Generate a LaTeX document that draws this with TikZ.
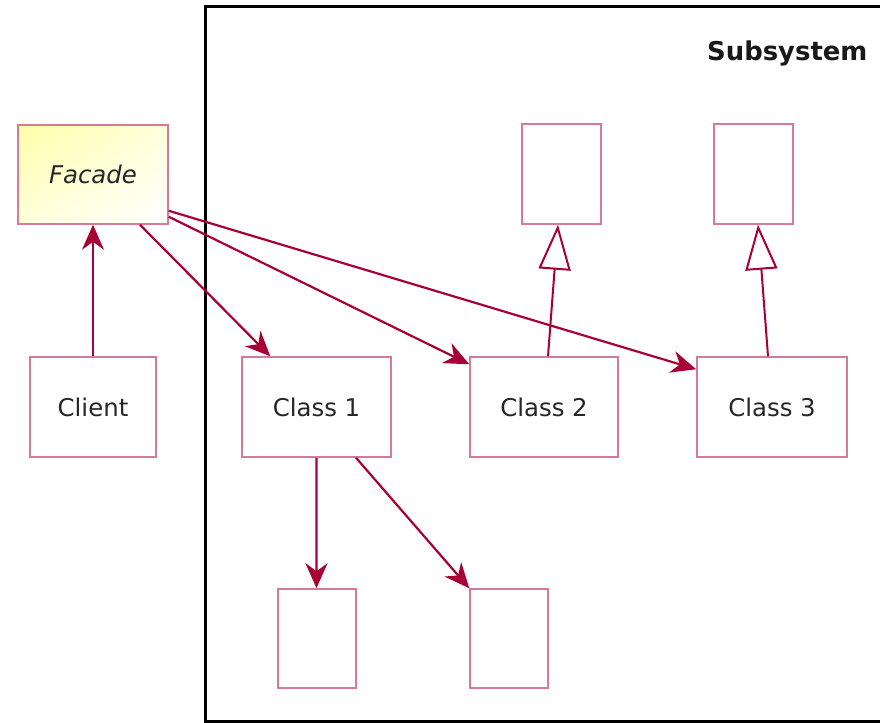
\documentclass[tikz,border=0pt]{standalone}
\usepackage{fontspec}
\setmainfont{DejaVu Sans}
\usetikzlibrary{arrows.meta,calc,shadings}
\definecolor{umlred}{HTML}{A80036}
\definecolor{boxline}{RGB}{214,122,152}
\definecolor{facadeyellow}{RGB}{255,255,170}
\definecolor{facademid}{RGB}{255,255,220}
\tikzset{
  cls/.style={draw=boxline, line width=1.5bp, fill=white, inner sep=0pt, anchor=center,
    font=\fontsize{24.5}{28}\selectfont, text=black!85},
  assoc/.style={draw=umlred, line width=2.2bp, -{Stealth[length=25bp,width=22bp,inset=8bp]}},
  gen/.style={draw=umlred, line width=2bp, -{Triangle[open,length=45bp,width=32bp,fill=white]}},
}
\begin{document}
\begin{tikzpicture}[x=1bp,y=-1bp]
\useasboundingbox (0,0) rectangle (880,723);
\clip (0,0) rectangle (880,723);
\fill[white] (0,0) rectangle (880,723);
% subsystem frame
\draw[black, line width=3bp] (205,7) rectangle (905,721);
\node[anchor=east, font=\bfseries\fontsize{26}{30}\selectfont, text=black!90] (subtitle) at (871,53) {Subsystem};
% nodes
\shade[upper left=facadeyellow, upper right=facademid, lower left=facademid, lower right=white] (18,125) rectangle (168,224);
\node[cls, fill=none, minimum width=150bp, minimum height=99bp, font=\itshape\fontsize{24.5}{28}\selectfont] (facade) at (93,174.5) {Facade};
\node[cls, minimum width=126bp, minimum height=100bp] (client) at (93,407) {Client};
\node[cls, minimum width=149bp, minimum height=100bp] (c1) at (316.5,407) {Class 1};
\node[cls, minimum width=148bp, minimum height=100bp] (c2) at (544,407) {Class 2};
\node[cls, minimum width=150bp, minimum height=100bp] (c3) at (772,407) {Class 3};
\node[cls, minimum width=79bp, minimum height=100bp] (p2) at (561.5,174) {};
\node[cls, minimum width=79bp, minimum height=100bp] (p3) at (753.5,174) {};
\node[cls, minimum width=78bp, minimum height=99bp] (s1) at (317,638.5) {};
\node[cls, minimum width=78bp, minimum height=99bp] (s2) at (509,638.5) {};
% connectors
\draw[assoc] (client.north) -- (facade.south);
\draw[assoc] ($(facade.south)+(47,0)$) -- ($(c1.north west)+(29,0)$);
\draw[assoc] ($(facade.south east)+(0,-8)$) -- ($(c2.north west)+(0,8)$);
\draw[assoc] ($(facade.south east)+(0,-14)$) -- ($(c3.north west)+(0,13)$);
\draw[gen] ($(c2.north)+(4,0)$) -- ($(p2.south)+(-3.5,0)$);
\draw[gen] ($(c3.north)+(-4,0)$) -- ($(p3.south)+(4.5,0)$);
\draw[assoc] ($(c1.south)+(0,0)$) -- ($(s1.north)+(-0.5,0)$);
\draw[assoc] ($(c1.south)+(39.5,0)$) -- (s2.north west);
\end{tikzpicture}
\end{document}
